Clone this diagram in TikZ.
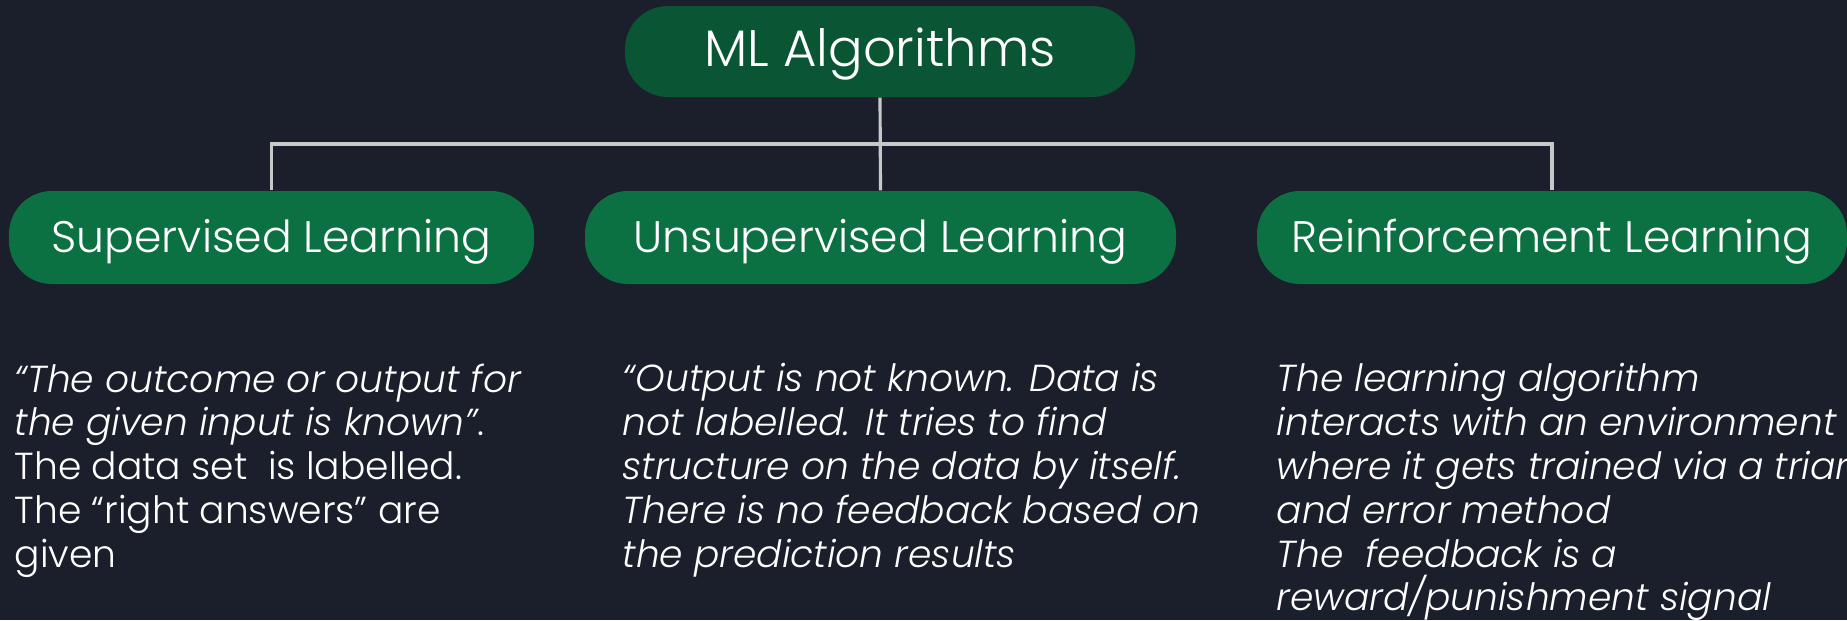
\documentclass[tikz,border=0pt]{standalone}
\usepackage{fontspec}
\setmainfont{Poppins}[UprightFont={* Light},ItalicFont={* Light Italic}]
\usepackage{tikz}
\usepackage{xcolor}
\usetikzlibrary{positioning}
\definecolor{slatebg}{RGB}{27,31,43}
\definecolor{rootgreen}{RGB}{10,85,52}
\definecolor{leafgreen}{RGB}{12,113,66}
\definecolor{wiregray}{RGB}{200,200,200}

\begin{document}
\begin{tikzpicture}[every node/.style={transform shape},
        root/.style={rectangle,rounded corners=0.43cm,fill=rootgreen,text=white,
          minimum width=5.10cm,minimum height=0.91cm,align=center,
          text height=0.85em,text depth=0pt,font=\fontsize{14.6}{17}\selectfont},
        kind/.style={rectangle,rounded corners=0.43cm,fill=leafgreen,text=white,
          minimum height=0.93cm,align=center,
          text height=0.85em,text depth=0pt,font=\fontsize{12.55}{15}\selectfont},
        note/.style={anchor=north west,inner sep=0pt,text=white,align=left,
          font=\fontsize{10.7}{12.45}\selectfont},
        wire/.style={draw=wiregray,line width=0.9pt}]
        \fill[slatebg] (0,0) rectangle (18.47,-6.20);
        \useasboundingbox (0,0) rectangle (18.47,-6.20);
        \node[root] (ml) at (8.80,-0.515) {ML Algorithms};
        \node[kind,minimum width=5.25cm] (sup) at (2.715,-2.375) {Supervised Learning};
        \node[kind,minimum width=5.91cm] (unsup) at (8.805,-2.375) {Unsupervised Learning};
        \node[kind,minimum width=5.90cm] (reinf) at (15.52,-2.375) {Reinforcement Learning};
        \coordinate (bus) at (8.80,-1.44);
        \draw[wire] (ml.south) -- (unsup.north);
        \draw[wire] (sup.north) |- (bus) -| (reinf.north);
        \node[note] (supnote) at (0.14,-3.63) {\textit{“The outcome or output for}\\
          \textit{the given input is known”}.\\
          The data set\ \ is labelled.\\
          The “right answers” are\\
          given};
        \node[note] (unsupnote) at (6.22,-3.63) {\itshape “Output is not known. Data is\\
          \itshape not labelled. It tries to find\\
          \itshape structure on the data by itself.\\
          \itshape There is no feedback based on\\
          \itshape the prediction results};
        \node[note] (reinfnote) at (12.76,-3.63) {\itshape The learning algorithm\\
          \itshape interacts with an environment\\
          \itshape where it gets trained via a triar\\
          \itshape and error method\\
          \itshape The\ \ feedback is a\\
          \itshape reward/punishment signal};
      \end{tikzpicture}
\end{document}
